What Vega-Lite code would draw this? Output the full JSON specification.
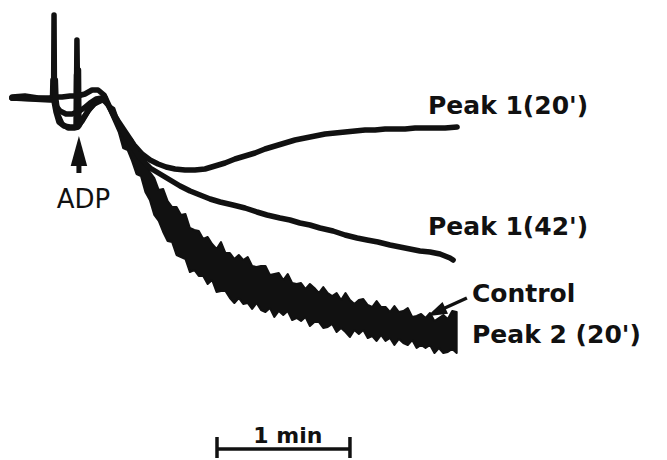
{
  "$schema": "https://vega.github.io/schema/vega-lite/v6.json",
  "width": 667,
  "height": 460,
  "autosize": {"type": "fit", "contains": "padding"},
  "padding": 0,
  "background": "white",
  "config": {"view": {"stroke": null}},
  "datasets": {
    "traces": [
      {"series": "Peak 1(20')", "t": 0, "y": 9.7},
      {"series": "Peak 1(20')", "t": 5.8, "y": 9.6},
      {"series": "Peak 1(20')", "t": 11.7, "y": 9.8},
      {"series": "Peak 1(20')", "t": 17.1, "y": 9.8},
      {"series": "Peak 1(20')", "t": 18.7, "y": 9.7},
      {"series": "Peak 1(20')", "t": 18.9, "y": 1.5},
      {"series": "Peak 1(20')", "t": 19.1, "y": 9.7},
      {"series": "Peak 1(20')", "t": 22.5, "y": 9.7},
      {"series": "Peak 1(20')", "t": 26.1, "y": 9.6},
      {"series": "Peak 1(20')", "t": 29.0, "y": 9.6},
      {"series": "Peak 1(20')", "t": 29.2, "y": 4.0},
      {"series": "Peak 1(20')", "t": 29.5, "y": 9.6},
      {"series": "Peak 1(20')", "t": 32.8, "y": 9.4},
      {"series": "Peak 1(20')", "t": 36.0, "y": 9.0},
      {"series": "Peak 1(20')", "t": 38.7, "y": 9.0},
      {"series": "Peak 1(20')", "t": 41.4, "y": 9.5},
      {"series": "Peak 1(20')", "t": 44.1, "y": 10.8},
      {"series": "Peak 1(20')", "t": 47.7, "y": 12.1},
      {"series": "Peak 1(20')", "t": 51.3, "y": 13.3},
      {"series": "Peak 1(20')", "t": 54.9, "y": 14.5},
      {"series": "Peak 1(20')", "t": 58.5, "y": 15.4},
      {"series": "Peak 1(20')", "t": 62.1, "y": 16.0},
      {"series": "Peak 1(20')", "t": 65.7, "y": 16.4},
      {"series": "Peak 1(20')", "t": 69.3, "y": 16.7},
      {"series": "Peak 1(20')", "t": 73.3, "y": 16.9},
      {"series": "Peak 1(20')", "t": 77.8, "y": 17.0},
      {"series": "Peak 1(20')", "t": 82.3, "y": 17.0},
      {"series": "Peak 1(20')", "t": 86.8, "y": 16.9},
      {"series": "Peak 1(20')", "t": 91.3, "y": 16.6},
      {"series": "Peak 1(20')", "t": 95.8, "y": 16.3},
      {"series": "Peak 1(20')", "t": 100.3, "y": 15.9},
      {"series": "Peak 1(20')", "t": 104.8, "y": 15.6},
      {"series": "Peak 1(20')", "t": 109.3, "y": 15.3},
      {"series": "Peak 1(20')", "t": 113.8, "y": 14.9},
      {"series": "Peak 1(20')", "t": 118.3, "y": 14.6},
      {"series": "Peak 1(20')", "t": 122.8, "y": 14.3},
      {"series": "Peak 1(20')", "t": 127.3, "y": 14.0},
      {"series": "Peak 1(20')", "t": 131.8, "y": 13.8},
      {"series": "Peak 1(20')", "t": 136.3, "y": 13.6},
      {"series": "Peak 1(20')", "t": 140.8, "y": 13.4},
      {"series": "Peak 1(20')", "t": 145.3, "y": 13.3},
      {"series": "Peak 1(20')", "t": 149.8, "y": 13.2},
      {"series": "Peak 1(20')", "t": 154.3, "y": 13.1},
      {"series": "Peak 1(20')", "t": 158.8, "y": 13.0},
      {"series": "Peak 1(20')", "t": 163.3, "y": 13.0},
      {"series": "Peak 1(20')", "t": 167.8, "y": 12.9},
      {"series": "Peak 1(20')", "t": 172.3, "y": 12.9},
      {"series": "Peak 1(20')", "t": 176.8, "y": 12.9},
      {"series": "Peak 1(20')", "t": 181.3, "y": 12.8},
      {"series": "Peak 1(20')", "t": 185.8, "y": 12.8},
      {"series": "Peak 1(20')", "t": 190.3, "y": 12.8},
      {"series": "Peak 1(20')", "t": 194.8, "y": 12.8},
      {"series": "Peak 1(20')", "t": 200.2, "y": 12.7},

      {"series": "Peak 1(42')", "t": 0, "y": 9.8},
      {"series": "Peak 1(42')", "t": 8.1, "y": 9.8},
      {"series": "Peak 1(42')", "t": 17.1, "y": 9.9},
      {"series": "Peak 1(42')", "t": 18.9, "y": 9.9},
      {"series": "Peak 1(42')", "t": 19.8, "y": 10.6},
      {"series": "Peak 1(42')", "t": 21.6, "y": 11.1},
      {"series": "Peak 1(42')", "t": 24.3, "y": 11.4},
      {"series": "Peak 1(42')", "t": 27.0, "y": 11.4},
      {"series": "Peak 1(42')", "t": 29.2, "y": 11.2},
      {"series": "Peak 1(42')", "t": 29.5, "y": 7.0},
      {"series": "Peak 1(42')", "t": 29.7, "y": 11.2},
      {"series": "Peak 1(42')", "t": 32.4, "y": 10.8},
      {"series": "Peak 1(42')", "t": 35.1, "y": 10.3},
      {"series": "Peak 1(42')", "t": 37.8, "y": 9.9},
      {"series": "Peak 1(42')", "t": 40.5, "y": 9.8},
      {"series": "Peak 1(42')", "t": 43.2, "y": 10.5},
      {"series": "Peak 1(42')", "t": 46.8, "y": 12.0},
      {"series": "Peak 1(42')", "t": 50.4, "y": 13.3},
      {"series": "Peak 1(42')", "t": 54.0, "y": 14.6},
      {"series": "Peak 1(42')", "t": 57.6, "y": 15.8},
      {"series": "Peak 1(42')", "t": 62.1, "y": 16.8},
      {"series": "Peak 1(42')", "t": 66.6, "y": 17.4},
      {"series": "Peak 1(42')", "t": 71.1, "y": 18.0},
      {"series": "Peak 1(42')", "t": 75.6, "y": 18.6},
      {"series": "Peak 1(42')", "t": 80.1, "y": 19.1},
      {"series": "Peak 1(42')", "t": 84.6, "y": 19.5},
      {"series": "Peak 1(42')", "t": 89.1, "y": 19.9},
      {"series": "Peak 1(42')", "t": 93.6, "y": 20.2},
      {"series": "Peak 1(42')", "t": 99.4, "y": 20.5},
      {"series": "Peak 1(42')", "t": 104.8, "y": 20.8},
      {"series": "Peak 1(42')", "t": 110.2, "y": 21.2},
      {"series": "Peak 1(42')", "t": 114.7, "y": 21.5},
      {"series": "Peak 1(42')", "t": 120.5, "y": 21.8},
      {"series": "Peak 1(42')", "t": 125.0, "y": 22.0},
      {"series": "Peak 1(42')", "t": 129.5, "y": 22.3},
      {"series": "Peak 1(42')", "t": 134.0, "y": 22.5},
      {"series": "Peak 1(42')", "t": 138.5, "y": 22.8},
      {"series": "Peak 1(42')", "t": 144.4, "y": 23.1},
      {"series": "Peak 1(42')", "t": 149.8, "y": 23.5},
      {"series": "Peak 1(42')", "t": 155.2, "y": 23.8},
      {"series": "Peak 1(42')", "t": 159.7, "y": 24.0},
      {"series": "Peak 1(42')", "t": 164.6, "y": 24.2},
      {"series": "Peak 1(42')", "t": 170.0, "y": 24.5},
      {"series": "Peak 1(42')", "t": 174.5, "y": 24.7},
      {"series": "Peak 1(42')", "t": 179.0, "y": 24.9},
      {"series": "Peak 1(42')", "t": 183.5, "y": 25.1},
      {"series": "Peak 1(42')", "t": 188.0, "y": 25.2},
      {"series": "Peak 1(42')", "t": 192.5, "y": 25.4},
      {"series": "Peak 1(42')", "t": 197.0, "y": 25.8},
      {"series": "Peak 1(42')", "t": 198.4, "y": 26.0},

      {"series": "Control", "t": 0, "y": 9.8},
      {"series": "Control", "t": 17.1, "y": 9.9},
      {"series": "Control", "t": 18.2, "y": 9.9},
      {"series": "Control", "t": 18.4, "y": 8.0},
      {"series": "Control", "t": 18.7, "y": 9.9},
      {"series": "Control", "t": 19.8, "y": 11.2},
      {"series": "Control", "t": 21.1, "y": 12.2},
      {"series": "Control", "t": 23.4, "y": 12.6},
      {"series": "Control", "t": 26.1, "y": 12.7},
      {"series": "Control", "t": 28.8, "y": 12.7},
      {"series": "Control", "t": 29.0, "y": 7.5},
      {"series": "Control", "t": 29.2, "y": 12.7},
      {"series": "Control", "t": 31.5, "y": 12.1},
      {"series": "Control", "t": 34.2, "y": 11.1},
      {"series": "Control", "t": 36.9, "y": 10.4},
      {"series": "Control", "t": 39.6, "y": 10.1},
      {"series": "Control", "t": 42.0, "y": 9.8},

      {"series": "Peak 2 (20')", "t": 0, "y": 9.8},
      {"series": "Peak 2 (20')", "t": 17.1, "y": 10.0},
      {"series": "Peak 2 (20')", "t": 19.3, "y": 10.0},
      {"series": "Peak 2 (20')", "t": 19.5, "y": 8.0},
      {"series": "Peak 2 (20')", "t": 19.8, "y": 10.0},
      {"series": "Peak 2 (20')", "t": 20.7, "y": 11.5},
      {"series": "Peak 2 (20')", "t": 22.5, "y": 12.4},
      {"series": "Peak 2 (20')", "t": 25.2, "y": 12.8},
      {"series": "Peak 2 (20')", "t": 27.9, "y": 12.8},
      {"series": "Peak 2 (20')", "t": 29.7, "y": 12.7},
      {"series": "Peak 2 (20')", "t": 29.9, "y": 7.0},
      {"series": "Peak 2 (20')", "t": 30.1, "y": 12.6},
      {"series": "Peak 2 (20')", "t": 32.4, "y": 11.7},
      {"series": "Peak 2 (20')", "t": 35.1, "y": 10.8},
      {"series": "Peak 2 (20')", "t": 37.8, "y": 10.2},
      {"series": "Peak 2 (20')", "t": 40.5, "y": 10.0},
      {"series": "Peak 2 (20')", "t": 42.0, "y": 10.1}
    ],
    "band": [
      {"t": 42, "control": 9.6, "peak2": 10.0},
      {"t": 44, "control": 10.5, "peak2": 11.2},
      {"t": 46, "control": 10.8, "peak2": 12.2},
      {"t": 48, "control": 12.1, "peak2": 13.2},
      {"t": 50, "control": 12.7, "peak2": 14.8},
      {"t": 52, "control": 13.7, "peak2": 15.0},
      {"t": 54, "control": 13.9, "peak2": 16.1},
      {"t": 56, "control": 15.0, "peak2": 17.4},
      {"t": 58, "control": 15.6, "peak2": 17.6},
      {"t": 60, "control": 15.9, "peak2": 19.2},
      {"t": 62, "control": 17.2, "peak2": 20.0},
      {"t": 64, "control": 17.8, "peak2": 21.5},
      {"t": 66, "control": 19.0, "peak2": 22.1},
      {"t": 68, "control": 18.9, "peak2": 23.2},
      {"t": 70, "control": 20.1, "peak2": 24.1},
      {"t": 72, "control": 20.7, "peak2": 24.2},
      {"t": 74, "control": 20.7, "peak2": 25.5},
      {"t": 76, "control": 21.5, "peak2": 25.7},
      {"t": 78, "control": 21.4, "peak2": 25.9},
      {"t": 80, "control": 22.8, "peak2": 27.2},
      {"t": 82, "control": 23.0, "peak2": 27.0},
      {"t": 84, "control": 23.1, "peak2": 27.6},
      {"t": 86, "control": 23.9, "peak2": 27.6},
      {"t": 88, "control": 23.7, "peak2": 28.4},
      {"t": 90, "control": 24.4, "peak2": 28.0},
      {"t": 92, "control": 24.9, "peak2": 29.2},
      {"t": 94, "control": 24.2, "peak2": 29.1},
      {"t": 96, "control": 25.3, "peak2": 29.1},
      {"t": 98, "control": 25.3, "peak2": 29.8},
      {"t": 100, "control": 25.9, "peak2": 30.3},
      {"t": 102, "control": 25.5, "peak2": 29.8},
      {"t": 104, "control": 26.0, "peak2": 30.4},
      {"t": 106, "control": 25.7, "peak2": 30.3},
      {"t": 108, "control": 26.6, "peak2": 30.9},
      {"t": 110, "control": 26.7, "peak2": 30.3},
      {"t": 112, "control": 26.6, "peak2": 31.0},
      {"t": 114, "control": 26.6, "peak2": 31.2},
      {"t": 116, "control": 27.5, "peak2": 30.8},
      {"t": 118, "control": 27.4, "peak2": 31.7},
      {"t": 120, "control": 27.3, "peak2": 31.1},
      {"t": 122, "control": 28.0, "peak2": 31.5},
      {"t": 124, "control": 27.4, "peak2": 31.1},
      {"t": 126, "control": 28.3, "peak2": 32.0},
      {"t": 128, "control": 28.4, "peak2": 31.8},
      {"t": 130, "control": 28.3, "peak2": 32.1},
      {"t": 132, "control": 28.9, "peak2": 31.7},
      {"t": 134, "control": 28.4, "peak2": 32.6},
      {"t": 136, "control": 28.8, "peak2": 32.2},
      {"t": 138, "control": 29.3, "peak2": 32.2},
      {"t": 140, "control": 28.7, "peak2": 32.8},
      {"t": 142, "control": 29.3, "peak2": 32.7},
      {"t": 144, "control": 29.6, "peak2": 32.4},
      {"t": 146, "control": 29.3, "peak2": 33.2},
      {"t": 148, "control": 30.0, "peak2": 32.8},
      {"t": 150, "control": 29.3, "peak2": 33.2},
      {"t": 152, "control": 30.0, "peak2": 33.7},
      {"t": 154, "control": 30.4, "peak2": 33.0},
      {"t": 156, "control": 30.0, "peak2": 33.4},
      {"t": 158, "control": 29.9, "peak2": 33.0},
      {"t": 160, "control": 30.5, "peak2": 33.8},
      {"t": 162, "control": 30.7, "peak2": 33.6},
      {"t": 164, "control": 30.1, "peak2": 34.1},
      {"t": 166, "control": 30.7, "peak2": 33.5},
      {"t": 168, "control": 30.7, "peak2": 34.1},
      {"t": 170, "control": 31.2, "peak2": 33.8},
      {"t": 172, "control": 30.6, "peak2": 34.5},
      {"t": 174, "control": 31.2, "peak2": 33.9},
      {"t": 176, "control": 31.1, "peak2": 34.3},
      {"t": 178, "control": 30.8, "peak2": 34.5},
      {"t": 180, "control": 31.7, "peak2": 34.0},
      {"t": 182, "control": 31.6, "peak2": 34.8},
      {"t": 184, "control": 31.4, "peak2": 34.5},
      {"t": 186, "control": 31.8, "peak2": 34.8},
      {"t": 188, "control": 31.3, "peak2": 34.5},
      {"t": 190, "control": 32.1, "peak2": 35.3},
      {"t": 192, "control": 31.8, "peak2": 34.8},
      {"t": 194, "control": 31.5, "peak2": 35.3},
      {"t": 196, "control": 31.9, "peak2": 35.2},
      {"t": 198, "control": 31.1, "peak2": 34.9},
      {"t": 200, "control": 31.2, "peak2": 35.3}
    ],
    "shaft": [
      {"item": "ADP arrow", "t": 30.1, "y": 15.9, "t2": 30.1, "y2": 17.3}
    ],
    "rules": [
      {"item": "Control arrow", "t": 204.6, "y": 29.8, "t2": 193.7, "y2": 30.9},
      {"item": "1 min bar", "t": 92.2, "y": 44.9, "t2": 152.0, "y2": 44.9},
      {"item": "1 min bar start", "t": 92.2, "y": 43.7, "t2": 92.2, "y2": 45.8},
      {"item": "1 min bar end", "t": 152.0, "y": 43.7, "t2": 152.0, "y2": 45.8}
    ],
    "heads_up": [{"item": "ADP", "t": 30.1, "y": 15.1}],
    "heads_control": [{"item": "Control", "t": 190.8, "y": 31.2}],
    "labels": [
      {"label": "Peak 1(20')", "t": 187.1, "y": 11.4},
      {"label": "Peak 1(42')", "t": 187.1, "y": 23.5},
      {"label": "Control", "t": 206.9, "y": 30.2},
      {"label": "Peak 2 (20')", "t": 206.9, "y": 34.3}
    ],
    "scale_label": [{"label": "1 min", "t": 124.1, "y": 44.3}],
    "adp_label": [{"label": "ADP", "t": 32.1, "y": 20.8}]
  },
  "layer": [
    {
      "data": {"name": "band"},
      "mark": {"type": "area", "color": "#111", "stroke": "#111", "strokeWidth": 2, "strokeJoin": "round"},
      "encoding": {
        "x": {"field": "t", "type": "quantitative", "scale": {"domain": [-5.4, 294.6], "nice": false, "zero": false}, "axis": null},
        "y": {"field": "control", "type": "quantitative", "scale": {"domain": [0, 46], "nice": false, "zero": false, "reverse": true}, "axis": null},
        "y2": {"field": "peak2"}
      }
    },
    {
      "data": {"name": "traces"},
      "mark": {"type": "line", "color": "#111", "strokeWidth": 5.5, "strokeJoin": "round", "strokeCap": "round"},
      "encoding": {
        "x": {"field": "t", "type": "quantitative", "scale": {"domain": [-5.4, 294.6], "nice": false, "zero": false}, "axis": null},
        "y": {"field": "y", "type": "quantitative", "scale": {"domain": [0, 46], "nice": false, "zero": false, "reverse": true}, "axis": null},
        "detail": {"field": "series", "type": "nominal"}
      }
    },
    {
      "data": {"name": "shaft"},
      "mark": {"type": "rule", "color": "#111", "strokeWidth": 5},
      "encoding": {
        "x": {"field": "t", "type": "quantitative", "scale": {"domain": [-5.4, 294.6], "nice": false, "zero": false}, "axis": null},
        "y": {"field": "y", "type": "quantitative", "scale": {"domain": [0, 46], "nice": false, "zero": false, "reverse": true}, "axis": null},
        "x2": {"field": "t2"},
        "y2": {"field": "y2"}
      }
    },
    {
      "data": {"name": "rules"},
      "mark": {"type": "rule", "color": "#111", "strokeWidth": 3.5},
      "encoding": {
        "x": {"field": "t", "type": "quantitative", "scale": {"domain": [-5.4, 294.6], "nice": false, "zero": false}, "axis": null},
        "y": {"field": "y", "type": "quantitative", "scale": {"domain": [0, 46], "nice": false, "zero": false, "reverse": true}, "axis": null},
        "x2": {"field": "t2"},
        "y2": {"field": "y2"}
      }
    },
    {
      "data": {"name": "heads_up"},
      "mark": {"type": "point", "shape": "M-0.55,1L0,-1L0.55,1Z", "filled": true, "color": "#111", "opacity": 1, "size": 900},
      "encoding": {
        "x": {"field": "t", "type": "quantitative", "scale": {"domain": [-5.4, 294.6], "nice": false, "zero": false}, "axis": null},
        "y": {"field": "y", "type": "quantitative", "scale": {"domain": [0, 46], "nice": false, "zero": false, "reverse": true}, "axis": null}
      }
    },
    {
      "data": {"name": "heads_control"},
      "mark": {"type": "point", "shape": "M-0.65,1L0,-1L0.65,1Z", "filled": true, "color": "#111", "opacity": 1, "size": 400, "angle": 245},
      "encoding": {
        "x": {"field": "t", "type": "quantitative", "scale": {"domain": [-5.4, 294.6], "nice": false, "zero": false}, "axis": null},
        "y": {"field": "y", "type": "quantitative", "scale": {"domain": [0, 46], "nice": false, "zero": false, "reverse": true}, "axis": null}
      }
    },
    {
      "data": {"name": "labels"},
      "mark": {"type": "text", "align": "left", "baseline": "alphabetic", "font": "DejaVu Sans", "fontWeight": "bold", "fontSize": 25, "color": "#111"},
      "encoding": {
        "x": {"field": "t", "type": "quantitative", "scale": {"domain": [-5.4, 294.6], "nice": false, "zero": false}, "axis": null},
        "y": {"field": "y", "type": "quantitative", "scale": {"domain": [0, 46], "nice": false, "zero": false, "reverse": true}, "axis": null},
        "text": {"field": "label"}
      }
    },
    {
      "data": {"name": "scale_label"},
      "mark": {"type": "text", "align": "center", "baseline": "alphabetic", "font": "DejaVu Sans", "fontWeight": "bold", "fontSize": 22, "color": "#111"},
      "encoding": {
        "x": {"field": "t", "type": "quantitative", "scale": {"domain": [-5.4, 294.6], "nice": false, "zero": false}, "axis": null},
        "y": {"field": "y", "type": "quantitative", "scale": {"domain": [0, 46], "nice": false, "zero": false, "reverse": true}, "axis": null},
        "text": {"field": "label"}
      }
    },
    {
      "data": {"name": "adp_label"},
      "mark": {"type": "text", "align": "center", "baseline": "alphabetic", "font": "DejaVu Sans", "fontSize": 26, "color": "#111"},
      "encoding": {
        "x": {"field": "t", "type": "quantitative", "scale": {"domain": [-5.4, 294.6], "nice": false, "zero": false}, "axis": null},
        "y": {"field": "y", "type": "quantitative", "scale": {"domain": [0, 46], "nice": false, "zero": false, "reverse": true}, "axis": null},
        "text": {"field": "label"}
      }
    }
  ]
}
